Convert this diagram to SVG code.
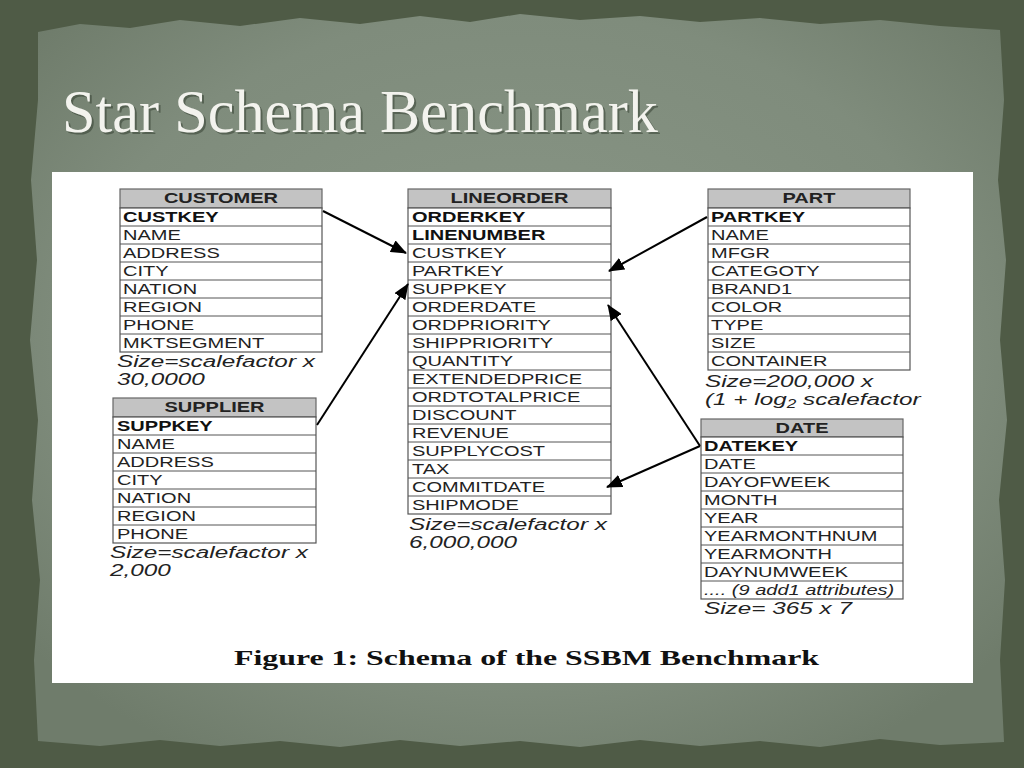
<svg xmlns="http://www.w3.org/2000/svg" width="1024" height="768" viewBox="0 0 1024 768">
<defs>
<radialGradient id="paperGrad" cx="50%" cy="45%" r="65%">
<stop offset="0" stop-color="#8a9787"/>
<stop offset="0.7" stop-color="#7f8c7c"/>
<stop offset="1" stop-color="#6f7c6b"/>
</radialGradient>
<marker id="arr" markerUnits="userSpaceOnUse" markerWidth="17" markerHeight="13" refX="15" refY="6.5" orient="auto">
<path d="M0,0 L16,6.5 L0,13 Z" fill="#000"/>
</marker>
<style>
.hdr{fill:#c3c3c3;stroke:#666;stroke-width:1.2}
.body{fill:#fff;stroke:#555;stroke-width:1.2}
.rl{stroke:#555;stroke-width:1}
.f{font-family:"Liberation Sans",Arial,sans-serif;font-size:14px;fill:#222}
.k{font-weight:bold;fill:#111}
.h{font-family:"Liberation Sans",Arial,sans-serif;font-size:14px;font-weight:bold;fill:#222;text-anchor:middle}
.cap{font-family:"Liberation Sans",Arial,sans-serif;font-size:17px;font-style:italic;fill:#222}
.conn line{stroke:#000;stroke-width:2;marker-end:url(#arr)}
</style>
</defs>
<rect x="0" y="0" width="1024" height="768" fill="#4f5b46"/>
<path d="M38,32 L80,24 L130,28 L180,20 L240,26 L300,18 L360,24 L420,16 L470,22 L520,14 L580,20 L640,16 L700,22 L760,18 L820,24 L880,20 L940,26 L1000,30 L1004,100 L998,180 L1006,260 L1000,340 L1007,420 L999,500 L1005,580 L1000,660 L1004,742 L940,745 L880,739 L820,747 L760,741 L700,746 L640,740 L580,747 L520,741 L460,746 L400,740 L340,747 L280,741 L220,746 L160,740 L100,746 L38,741 L34,660 L40,580 L32,500 L38,420 L30,340 L37,260 L31,180 L38,100 Z" fill="url(#paperGrad)"/>
<text x="64" y="134" font-family="'Liberation Serif','Times New Roman',serif" font-size="61" fill="#2f3a2c" opacity="0.5" textLength="596" lengthAdjust="spacingAndGlyphs">Star Schema Benchmark</text>
<text x="62" y="132" font-family="'Liberation Serif','Times New Roman',serif" font-size="61" fill="#f3f3ee" textLength="596" lengthAdjust="spacingAndGlyphs">Star Schema Benchmark</text>
<rect x="52" y="172" width="921" height="511" fill="#fff"/>

<g id="customer">
<rect class="hdr" x="120" y="189" width="202" height="19"/>
<rect class="body" x="120" y="208" width="202" height="144"/>
<g class="rl"><line x1="120" y1="226" x2="322" y2="226"/><line x1="120" y1="244" x2="322" y2="244"/><line x1="120" y1="262" x2="322" y2="262"/><line x1="120" y1="280" x2="322" y2="280"/><line x1="120" y1="298" x2="322" y2="298"/><line x1="120" y1="316" x2="322" y2="316"/><line x1="120" y1="334" x2="322" y2="334"/></g>
<g transform="translate(221,0) scale(1.43,1)"><text class="h" x="0" y="203.5">CUSTOMER</text></g>
<g transform="translate(123,0) scale(1.43,1)" class="f">
<text class="f k" x="0" y="222">CUSTKEY</text><text class="f" x="0" y="240">NAME</text><text class="f" x="0" y="258">ADDRESS</text><text class="f" x="0" y="276">CITY</text><text class="f" x="0" y="294">NATION</text><text class="f" x="0" y="312">REGION</text><text class="f" x="0" y="330">PHONE</text><text class="f" x="0" y="348">MKTSEGMENT</text>
</g>
<g transform="translate(117,0) scale(1.43,1)"><text class="cap" x="0" y="367">Size=scalefactor x</text><text class="cap" x="0" y="385">30,0000</text></g>
</g>

<g id="lineorder">
<rect class="hdr" x="408" y="189" width="203" height="19"/>
<rect class="body" x="408" y="208" width="203" height="306"/>
<g class="rl"><line x1="408" y1="226" x2="611" y2="226"/><line x1="408" y1="244" x2="611" y2="244"/><line x1="408" y1="262" x2="611" y2="262"/><line x1="408" y1="280" x2="611" y2="280"/><line x1="408" y1="298" x2="611" y2="298"/><line x1="408" y1="316" x2="611" y2="316"/><line x1="408" y1="334" x2="611" y2="334"/><line x1="408" y1="352" x2="611" y2="352"/><line x1="408" y1="370" x2="611" y2="370"/><line x1="408" y1="388" x2="611" y2="388"/><line x1="408" y1="406" x2="611" y2="406"/><line x1="408" y1="424" x2="611" y2="424"/><line x1="408" y1="442" x2="611" y2="442"/><line x1="408" y1="460" x2="611" y2="460"/><line x1="408" y1="478" x2="611" y2="478"/><line x1="408" y1="496" x2="611" y2="496"/></g>
<g transform="translate(509.5,0) scale(1.43,1)"><text class="h" x="0" y="203.5">LINEORDER</text></g>
<g transform="translate(412,0) scale(1.43,1)">
<text class="f k" x="0" y="222">ORDERKEY</text><text class="f k" x="0" y="240">LINENUMBER</text><text class="f" x="0" y="258">CUSTKEY</text><text class="f" x="0" y="276">PARTKEY</text><text class="f" x="0" y="294">SUPPKEY</text><text class="f" x="0" y="312">ORDERDATE</text><text class="f" x="0" y="330">ORDPRIORITY</text><text class="f" x="0" y="348">SHIPPRIORITY</text><text class="f" x="0" y="366">QUANTITY</text><text class="f" x="0" y="384">EXTENDEDPRICE</text><text class="f" x="0" y="402">ORDTOTALPRICE</text><text class="f" x="0" y="420">DISCOUNT</text><text class="f" x="0" y="438">REVENUE</text><text class="f" x="0" y="456">SUPPLYCOST</text><text class="f" x="0" y="474">TAX</text><text class="f" x="0" y="492">COMMITDATE</text><text class="f" x="0" y="510">SHIPMODE</text>
</g>
<g transform="translate(409,0) scale(1.43,1)"><text class="cap" x="0" y="530">Size=scalefactor x</text><text class="cap" x="0" y="548">6,000,000</text></g>
</g>

<g id="part">
<rect class="hdr" x="708" y="189" width="202" height="19"/>
<rect class="body" x="708" y="208" width="202" height="162"/>
<g class="rl"><line x1="708" y1="226" x2="910" y2="226"/><line x1="708" y1="244" x2="910" y2="244"/><line x1="708" y1="262" x2="910" y2="262"/><line x1="708" y1="280" x2="910" y2="280"/><line x1="708" y1="298" x2="910" y2="298"/><line x1="708" y1="316" x2="910" y2="316"/><line x1="708" y1="334" x2="910" y2="334"/><line x1="708" y1="352" x2="910" y2="352"/></g>
<g transform="translate(809,0) scale(1.43,1)"><text class="h" x="0" y="203.5">PART</text></g>
<g transform="translate(711,0) scale(1.43,1)">
<text class="f k" x="0" y="222">PARTKEY</text><text class="f" x="0" y="240">NAME</text><text class="f" x="0" y="258">MFGR</text><text class="f" x="0" y="276">CATEGOTY</text><text class="f" x="0" y="294">BRAND1</text><text class="f" x="0" y="312">COLOR</text><text class="f" x="0" y="330">TYPE</text><text class="f" x="0" y="348">SIZE</text><text class="f" x="0" y="366">CONTAINER</text>
</g>
<g transform="translate(705,0) scale(1.43,1)"><text class="cap" x="0" y="387">Size=200,000 x</text><text class="cap" x="0" y="405">(1 + log<tspan font-size="12" dy="3">2</tspan><tspan dy="-3"> scalefactor</tspan></text></g>
</g>

<g id="supplier">
<rect class="hdr" x="113" y="398" width="203" height="19"/>
<rect class="body" x="113" y="417" width="203" height="126"/>
<g class="rl"><line x1="113" y1="435" x2="316" y2="435"/><line x1="113" y1="453" x2="316" y2="453"/><line x1="113" y1="471" x2="316" y2="471"/><line x1="113" y1="489" x2="316" y2="489"/><line x1="113" y1="507" x2="316" y2="507"/><line x1="113" y1="525" x2="316" y2="525"/></g>
<g transform="translate(214.5,0) scale(1.43,1)"><text class="h" x="0" y="412.5">SUPPLIER</text></g>
<g transform="translate(117,0) scale(1.43,1)">
<text class="f k" x="0" y="431">SUPPKEY</text><text class="f" x="0" y="449">NAME</text><text class="f" x="0" y="467">ADDRESS</text><text class="f" x="0" y="485">CITY</text><text class="f" x="0" y="503">NATION</text><text class="f" x="0" y="521">REGION</text><text class="f" x="0" y="539">PHONE</text>
</g>
<g transform="translate(110,0) scale(1.43,1)"><text class="cap" x="0" y="558">Size=scalefactor x</text><text class="cap" x="0" y="576">2,000</text></g>
</g>

<g id="date">
<rect class="hdr" x="701" y="419" width="202" height="18"/>
<rect class="body" x="701" y="437" width="202" height="162"/>
<g class="rl"><line x1="701" y1="455" x2="903" y2="455"/><line x1="701" y1="473" x2="903" y2="473"/><line x1="701" y1="491" x2="903" y2="491"/><line x1="701" y1="509" x2="903" y2="509"/><line x1="701" y1="527" x2="903" y2="527"/><line x1="701" y1="545" x2="903" y2="545"/><line x1="701" y1="563" x2="903" y2="563"/><line x1="701" y1="581" x2="903" y2="581"/></g>
<g transform="translate(802,0) scale(1.43,1)"><text class="h" x="0" y="433.5">DATE</text></g>
<g transform="translate(704,0) scale(1.43,1)">
<text class="f k" x="0" y="451">DATEKEY</text><text class="f" x="0" y="469">DATE</text><text class="f" x="0" y="487">DAYOFWEEK</text><text class="f" x="0" y="505">MONTH</text><text class="f" x="0" y="523">YEAR</text><text class="f" x="0" y="541">YEARMONTHNUM</text><text class="f" x="0" y="559">YEARMONTH</text><text class="f" x="0" y="577">DAYNUMWEEK</text><text class="f" x="0" y="595" font-style="italic" font-size="13.5">.... (9 add1 attributes)</text>
</g>
<g transform="translate(704,0) scale(1.43,1)"><text class="cap" x="0" y="614">Size= 365 x 7</text></g>
</g>

<g id="connectors" class="conn">
<line x1="323" y1="211" x2="406" y2="253"/>
<line x1="317" y1="425" x2="408" y2="284"/>
<line x1="707" y1="217" x2="609" y2="271"/>
<line x1="700" y1="446" x2="608" y2="305"/>
<line x1="700" y1="446" x2="607" y2="487"/>
</g>

<text x="234" y="665" font-family="'Liberation Serif','Times New Roman',serif" font-size="22" font-weight="bold" fill="#111" textLength="585" lengthAdjust="spacingAndGlyphs">Figure 1:  Schema of the SSBM Benchmark</text>
</svg>
